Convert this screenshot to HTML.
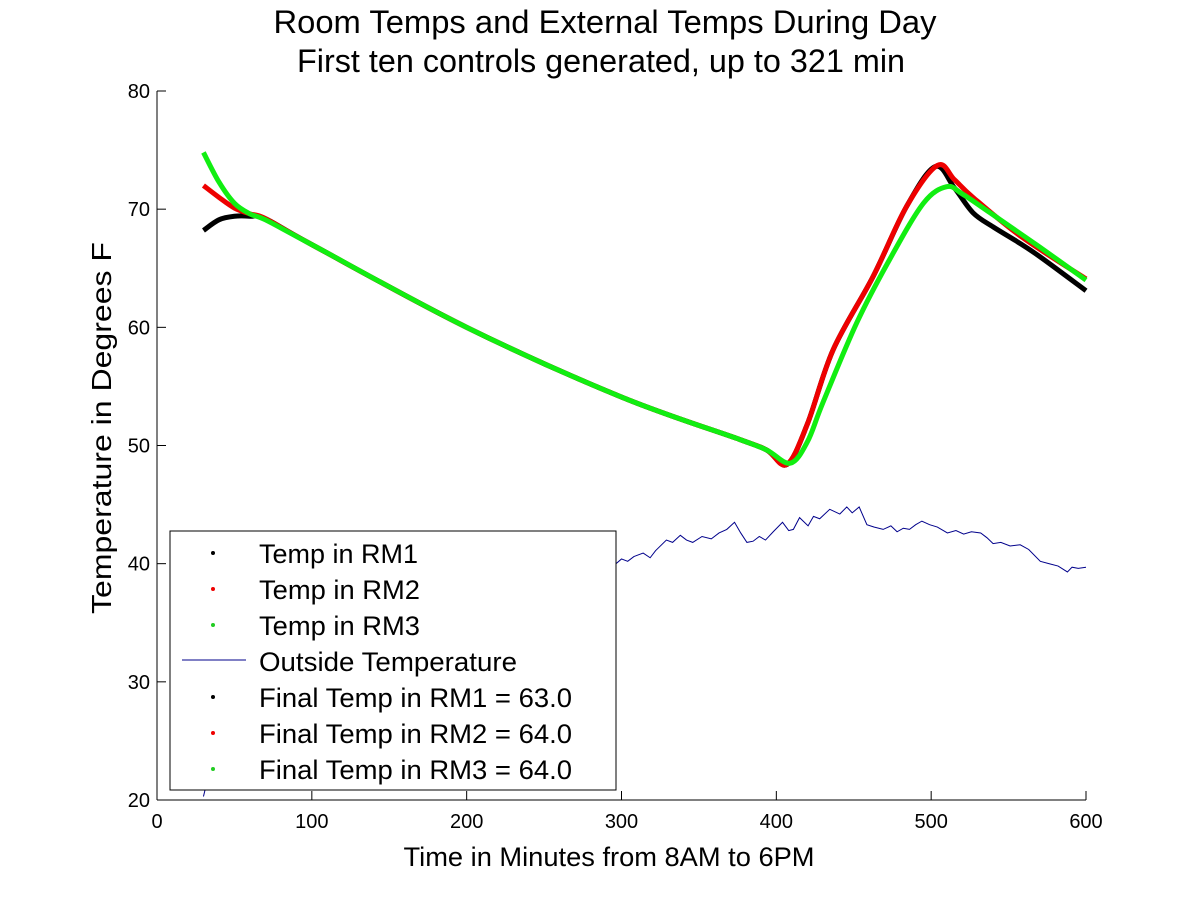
<!DOCTYPE html>
<html><head><meta charset="utf-8"><style>
html,body{margin:0;padding:0;background:#fff;}
svg{display:block;font-family:"Liberation Sans",sans-serif;}
</style></head><body>
<svg id="chart" width="1200" height="900" viewBox="0 0 1200 900">
<rect width="1200" height="900" fill="#fff"/>
<text x="605" y="33" font-size="32" text-anchor="middle" textLength="663" lengthAdjust="spacingAndGlyphs">Room Temps and External Temps During Day</text>
<text x="601" y="72" font-size="32" text-anchor="middle" textLength="608" lengthAdjust="spacingAndGlyphs">First ten controls generated, up to 321 min</text>
<text x="609" y="866" font-size="27" text-anchor="middle" textLength="411" lengthAdjust="spacingAndGlyphs">Time in Minutes from 8AM to 6PM</text>
<text transform="translate(111,428) rotate(-90)" font-size="28" text-anchor="middle" textLength="372" lengthAdjust="spacingAndGlyphs">Temperature in Degrees F</text>
<g id="axes"></g>
<g id="series"></g>
<g id="legend">
<rect x="170" y="531" width="446" height="259" fill="#fff" stroke="#000" stroke-width="1"/>
<g font-size="27" fill="#000">
<g><circle cx="213" cy="553" r="2" fill="#000"/><text x="259" y="563" textLength="159" lengthAdjust="spacingAndGlyphs">Temp in RM1</text></g>
<g><circle cx="213" cy="589" r="2" fill="#e00"/><text x="259" y="599" textLength="161" lengthAdjust="spacingAndGlyphs">Temp in RM2</text></g>
<g><circle cx="213" cy="625" r="2" fill="#2c2"/><text x="259" y="635" textLength="161" lengthAdjust="spacingAndGlyphs">Temp in RM3</text></g>
<g><line x1="182" y1="660" x2="246" y2="660" stroke="#00008b" stroke-width="1"/><text x="259" y="671" textLength="258" lengthAdjust="spacingAndGlyphs">Outside Temperature</text></g>
<g><circle cx="213" cy="697" r="2" fill="#000"/><text x="259" y="707" textLength="313" lengthAdjust="spacingAndGlyphs">Final Temp in RM1 = 63.0</text></g>
<g><circle cx="213" cy="733" r="2" fill="#e00"/><text x="259" y="743" textLength="313" lengthAdjust="spacingAndGlyphs">Final Temp in RM2 = 64.0</text></g>
<g><circle cx="213" cy="769" r="2" fill="#2c2"/><text x="259" y="779" textLength="313" lengthAdjust="spacingAndGlyphs">Final Temp in RM3 = 64.0</text></g>
</g></g>
</svg>
<script>
const xTicks=[0,100,200,300,400,500,600];
const yTicks=[20,30,40,50,60,70,80];
const outT=[30,35,50,80,120,200,260,296.5,300,304,308,314,318.5,322,329,333,338,342,346,352,358,363,368,373,377,381,385,389,393,398,404,408,411,415,420.5,424,428,434.5,441,445.5,449,453.5,458.5,463,469,474,478,482,486,490,494,499,504,510.5,516,521,526,532,536,540,545,551,557.5,563,570.5,576,582,588,591,595,600];
const outV=[20.3,23,30,35,37,39,39.5,40.0,40.4,40.2,40.6,40.9,40.5,41.1,42.0,41.8,42.4,42.0,41.8,42.3,42.1,42.6,42.9,43.5,42.6,41.8,41.9,42.3,42.0,42.7,43.5,42.8,42.9,43.9,43.2,44.0,43.8,44.6,44.2,44.8,44.3,44.8,43.3,43.1,42.9,43.2,42.7,43.0,42.9,43.3,43.6,43.3,43.1,42.6,42.8,42.5,42.7,42.6,42.2,41.7,41.8,41.5,41.6,41.2,40.2,40.0,39.8,39.3,39.7,39.6,39.7];
const rm1T=[30,40,50,60,70,100,200,300,376.6,394,407,420,436.7,462.5,484,502.6,515,527,540,555,570,600];
const rm1V=[68.2,69.1,69.4,69.4,69.2,67.0,60.0,54.1,50.5,49.6,48.4,51.8,58.1,64.3,70.2,73.6,71.8,69.7,68.5,67.3,66.0,63.1];
const rm2T=[30,40,50,60,70,100,200,300,376.6,394,406.8,420,436.7,462.5,484,504,515,527,559,600];
const rm2V=[72.0,71.0,70.1,69.6,69.2,67.0,60.0,54.1,50.5,49.6,48.4,51.8,58.1,64.3,70.2,73.7,72.5,71.0,67.6,64.1];
const rm3T=[30,40,50,60,70,100,200,300,376.6,394,409,420,430,452,473,495,510,520,538,570,600];
const rm3V=[74.8,72.3,70.5,69.6,69.1,67.0,60.0,54.1,50.5,49.6,48.5,50.3,53.6,60.4,65.7,70.5,71.9,71.3,69.7,66.8,64.0];
const X=t=>157+t*(1086-157)/600;
const Y=v=>800-(v-20)*(800-91)/60;
const NS="http://www.w3.org/2000/svg";
function mk(tag,attrs,parent){const e=document.createElementNS(NS,tag);for(const k in attrs)e.setAttribute(k,attrs[k]);parent.appendChild(e);return e;}
const axes=document.getElementById('axes');
const xa=mk('line',{x1:157,y1:800,x2:1086,y2:800,stroke:'#000','stroke-width':1},axes);


const ya=mk('line',{x1:157,y1:91,x2:157,y2:800,stroke:'#000','stroke-width':1},axes);


xTicks.forEach(t=>{
  const l=mk('line',{x1:X(t),y1:800,x2:X(t),y2:791,stroke:'#000'},axes);
  
  
  const tx=mk('text',{x:X(t),y:828,'font-size':20,'text-anchor':'middle'},axes);
  tx.textContent=t;
  
  
});
yTicks.forEach(v=>{
  const l=mk('line',{x1:157,y1:Y(v),x2:166,y2:Y(v),stroke:'#000'},axes);
  
  
  const tx=mk('text',{x:150,y:Y(v)+7,'font-size':20,'text-anchor':'end'},axes);
  tx.textContent=v;
  
  
});
function smooth(ts,vs){
  const p=ts.map((t,i)=>[X(t),Y(vs[i])]);
  let d='M'+p[0][0]+','+p[0][1];
  for(let i=0;i<p.length-1;i++){
    const p0=p[Math.max(0,i-1)],p1=p[i],p2=p[i+1],p3=p[Math.min(p.length-1,i+2)];
    const c1=[p1[0]+(p2[0]-p0[0])/6,p1[1]+(p2[1]-p0[1])/6];
    const c2=[p2[0]-(p3[0]-p1[0])/6,p2[1]-(p3[1]-p1[1])/6];
    d+=' C'+c1+' '+c2+' '+p2;
  }
  return d;
}
const ser=document.getElementById('series');
const ol=mk('polyline',{points:outT.map((t,i)=>X(t)+','+Y(outV[i])).join(' '),fill:'none',stroke:'#00008b','stroke-width':1},ser);


const r1=mk('path',{d:smooth(rm1T,rm1V),fill:'none',stroke:'#000','stroke-width':5},ser);


const r2=mk('path',{d:smooth(rm2T,rm2V),fill:'none',stroke:'#e00','stroke-width':5},ser);


const r3=mk('path',{d:smooth(rm3T,rm3V),fill:'none',stroke:'#1e1','stroke-width':5},ser);


</script>
</body></html>
